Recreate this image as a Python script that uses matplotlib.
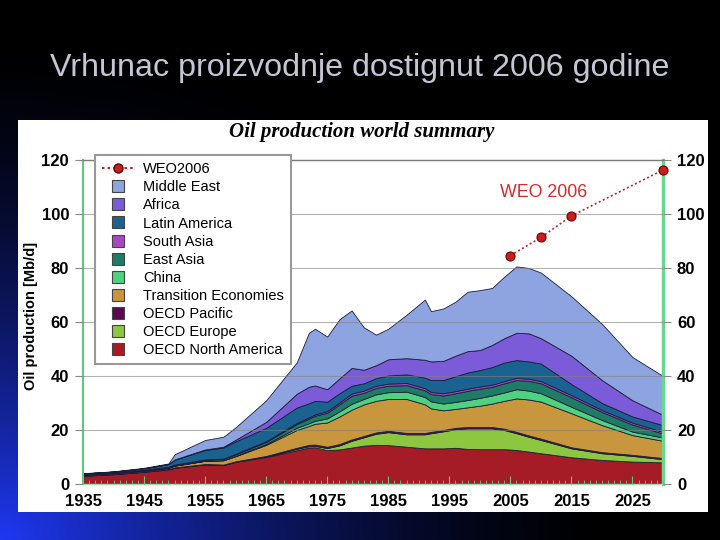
import numpy as np
import matplotlib.pyplot as plt
from matplotlib.lines import Line2D

# ---- data (Mb/d) ----
years = [1935, 1940, 1945, 1949, 1950, 1955, 1958, 1960, 1965, 1970, 1972, 1973,
         1975, 1977, 1979, 1981, 1983, 1985, 1988, 1991, 1992, 1994, 1996, 1998,
         2000, 2002, 2004, 2006, 2008, 2010, 2015, 2020, 2025, 2030]

oecd_north_america = [3.0, 3.6, 4.5, 5.4, 6.0, 7.2, 7.0, 8.2, 10.0, 12.5, 13.5, 13.6,
                      12.5, 12.8, 13.5, 14.2, 14.5, 14.4, 13.8, 13.2, 13.2, 13.2, 13.4, 13.0,
                      12.9, 12.9, 12.9, 12.6, 12.0, 11.4, 9.9, 8.9, 8.3, 8.0]
oecd_europe = [0.1, 0.1, 0.1, 0.1, 0.1, 0.1, 0.1, 0.1, 0.2, 0.5, 0.5, 0.5,
               0.8, 1.5, 2.5, 3.1, 4.1, 4.8, 4.6, 5.2, 5.6, 6.3, 6.9, 7.6,
               7.7, 7.7, 7.1, 6.2, 5.5, 4.9, 3.3, 2.5, 2.1, 1.2]
oecd_pacific = [0.05, 0.05, 0.05, 0.05, 0.05, 0.1, 0.1, 0.1, 0.2, 0.4, 0.5, 0.5,
                0.5, 0.5, 0.5, 0.5, 0.5, 0.5, 0.5, 0.5, 0.5, 0.5, 0.5, 0.5,
                0.5, 0.5, 0.5, 0.5, 0.5, 0.5, 0.4, 0.4, 0.4, 0.4]
transition = [0.35, 0.35, 0.35, 0.45, 0.65, 1.2, 1.6, 1.9, 4.1, 6.6, 7.0, 7.7,
              9.0, 10.2, 11.0, 11.7, 11.7, 11.8, 12.6, 10.6, 8.7, 7.3, 7.0, 7.3,
              7.9, 8.7, 10.3, 12.4, 13.3, 13.7, 12.6, 10.0, 7.3, 6.4]
china = [0, 0, 0, 0, 0, 0, 0, 0.1, 0.3, 0.8, 1.0, 1.1,
         1.5, 1.9, 2.2, 2.0, 2.4, 2.5, 2.7, 2.7, 2.6, 2.5, 2.6, 2.7,
         2.9, 3.0, 3.1, 3.4, 3.3, 3.1, 2.4, 1.9, 1.3, 1.2]
east_asia = [0.1, 0.15, 0.2, 0.3, 0.3, 0.4, 0.5, 0.6, 0.8, 1.4, 1.7, 1.9,
             2.1, 2.6, 3.0, 2.3, 2.4, 2.4, 2.4, 2.5, 2.7, 3.0, 3.2, 3.4,
             3.4, 3.2, 3.4, 3.4, 3.6, 3.7, 3.5, 3.0, 2.6, 1.5]
south_asia = [0, 0.05, 0.05, 0.1, 0.1, 0.1, 0.1, 0.2, 0.3, 0.4, 0.5, 0.5,
              0.6, 0.7, 0.8, 0.8, 0.8, 0.8, 0.8, 0.8, 0.8, 0.8, 0.8, 0.8,
              0.8, 0.8, 0.8, 0.8, 0.8, 0.8, 0.8, 0.7, 0.7, 0.6]
latin_america = [0.3, 0.3, 0.55, 1.0, 1.8, 3.5, 4.1, 4.6, 4.9, 5.7, 5.2, 5.0,
                 3.5, 3.4, 2.9, 2.7, 2.8, 3.0, 3.2, 3.9, 4.4, 4.9, 5.5, 6.0,
                 6.1, 6.5, 6.9, 6.6, 6.4, 6.5, 4.1, 2.6, 2.3, 2.5]
africa = [0, 0, 0, 0, 0.1, 0.2, 0.3, 0.6, 2.2, 5.1, 6.1, 5.7,
          4.6, 5.5, 6.6, 5.0, 4.8, 6.0, 6.0, 6.6, 6.9, 7.1, 7.6, 7.9,
          7.4, 8.2, 9.0, 10.1, 10.4, 9.4, 10.5, 8.5, 6.0, 3.8]
middle_east = [0.1, 0.1, 0.2, 0.2, 1.9, 3.5, 3.7, 4.6, 8.0, 11.6, 20.0, 21.0,
               19.5, 21.9, 21.3, 15.7, 11.3, 11.3, 16.1, 22.3, 18.6, 19.4, 20.0, 22.0,
               22.2, 21.1, 22.8, 24.6, 24.2, 24.3, 22.0, 20.8, 16.0, 14.4]

weo_years = [2005, 2010, 2015, 2030]
weo_values = [84.6, 91.3, 99.3, 116.3]

regions = ["OECD North America", "OECD Europe", "OECD Pacific", "Transition Economies",
           "China", "East Asia", "South Asia", "Latin America", "Africa", "Middle East"]
colors = ["#A51C26", "#8DC63F", "#5C0A50", "#C8963C", "#4FD27F",
          "#1E7B65", "#A846C8", "#1A6290", "#7B5BD8", "#8DA4E0"]
series = [oecd_north_america, oecd_europe, oecd_pacific, transition, china,
          east_asia, south_asia, latin_america, africa, middle_east]

W, H = 720, 540
SANS = "Liberation Sans"
fig = plt.figure(figsize=(W / 100, H / 100), dpi=100)

# background: black slide with blue glow from bottom-left
bg = fig.add_axes([0, 0, 1, 1])
yy, xx = np.mgrid[0:H, 0:W]
t = np.clip(1 - np.hypot(xx * 0.9, (H - yy) * 1.1) / 560, 0, 1) ** 1.6
img = np.dstack([0.12 * t, 0.22 * t, 0.95 * t])
bg.imshow(img, extent=[0, 1, 0, 1], aspect="auto", origin="upper")
bg.axis("off")

fig.text(0.5, 1 - 68 / H, "Vrhunac proizvodnje dostignut 2006 godine",
         ha="center", va="center", color="#C4C6D6", fontsize=23.2, family=SANS)

# white panel
panel = fig.add_axes([18 / W, 28 / H, 690 / W, 392 / H])
panel.set_facecolor("white")
panel.set_xticks([])
panel.set_yticks([])
for s in panel.spines.values():
    s.set_visible(False)

fig.text(362 / W, 1 - 132 / H, "Oil production world summary", ha="center", va="center",
         fontsize=15, fontweight="bold", fontstyle="italic", family="Liberation Serif")
fig.text(31 / W, 1 - 316 / H, "Oil production [Mb/d]", rotation=90, ha="center",
         va="center", fontsize=10.5, fontweight="bold", family=SANS)

ax = fig.add_axes([83 / W, 56 / H, 580 / W, 324 / H])
ax.set_facecolor("none")
ax.stackplot(years, *series, colors=colors, edgecolor="#1c1c3a", linewidth=0.6, zorder=2)

ax.plot(weo_years, weo_values, linestyle=(0, (1.2, 1.5)), color="#C82020", linewidth=1.2,
        marker="o", markersize=6.5, markerfacecolor="#C81E1E", markeredgecolor="#6a0000",
        markeredgewidth=0.8, zorder=4, clip_on=False)
ax.text(2010.4, 108, "WEO 2006", color="#D22B2B", fontsize=12.8, ha="center", va="center",
        family=SANS)

ax.set_xlim(1935, 2030)
ax.set_ylim(0, 120)
ax.set_xticks(range(1935, 2030, 10))
ax.set_xticks(range(1935, 2031), minor=True)
ax.set_yticks(range(0, 121, 20))
ax.grid(axis="y", color="#808080", linewidth=0.8, alpha=0.6, zorder=3)
ax.set_axisbelow(False)

ax.tick_params(axis="y", direction="out", length=6, color="#888888", pad=4,
               labelsize=12, right=True, labelright=True)
ax.tick_params(axis="x", which="both", direction="in", color="#5cc97f", pad=7,
               labelsize=12)
ax.tick_params(axis="x", which="major", length=6)
ax.tick_params(axis="x", which="minor", length=3)
for tk in ax.xaxis.get_major_ticks() + ax.yaxis.get_major_ticks():
    for lbl in (tk.label1, tk.label2):
        lbl.set_fontweight("bold")
        lbl.set_family(SANS)

ax.spines["left"].set_color("#5cc97f")
ax.spines["left"].set_linewidth(1.5)
ax.spines["right"].set_color("#66d98e")
ax.spines["right"].set_linewidth(2.5)
ax.spines["top"].set_color("#777777")
ax.spines["top"].set_linewidth(1.0)
ax.spines["bottom"].set_color("#9ee0b0")
ax.spines["bottom"].set_linewidth(1.0)

handles = [Line2D([0], [0], linestyle=(0, (1.2, 1.5)), color="#C82020", marker="o",
                  markersize=6.5, markerfacecolor="#C81E1E", markeredgecolor="#6a0000")]
labels = ["WEO2006"]
for name, c in zip(regions[::-1], colors[::-1]):
    handles.append(Line2D([0], [0], linestyle="none", marker="s", markersize=9,
                          markerfacecolor=c, markeredgecolor="#444444", markeredgewidth=0.8))
    labels.append(name)
leg = ax.legend(handles, labels, loc="upper left", bbox_to_anchor=(95 / W, 1 - 155 / H),
                bbox_transform=fig.transFigure, borderaxespad=0,
                frameon=True, fancybox=False, framealpha=1, edgecolor="#999999",
                labelspacing=0.28, handlelength=2.2, handletextpad=0.6, borderpad=0.5,
                prop={"family": SANS, "size": 10.5})
leg.get_frame().set_linewidth(1.5)
leg.set_zorder(6)

fig.savefig("out.png", dpi=100)
